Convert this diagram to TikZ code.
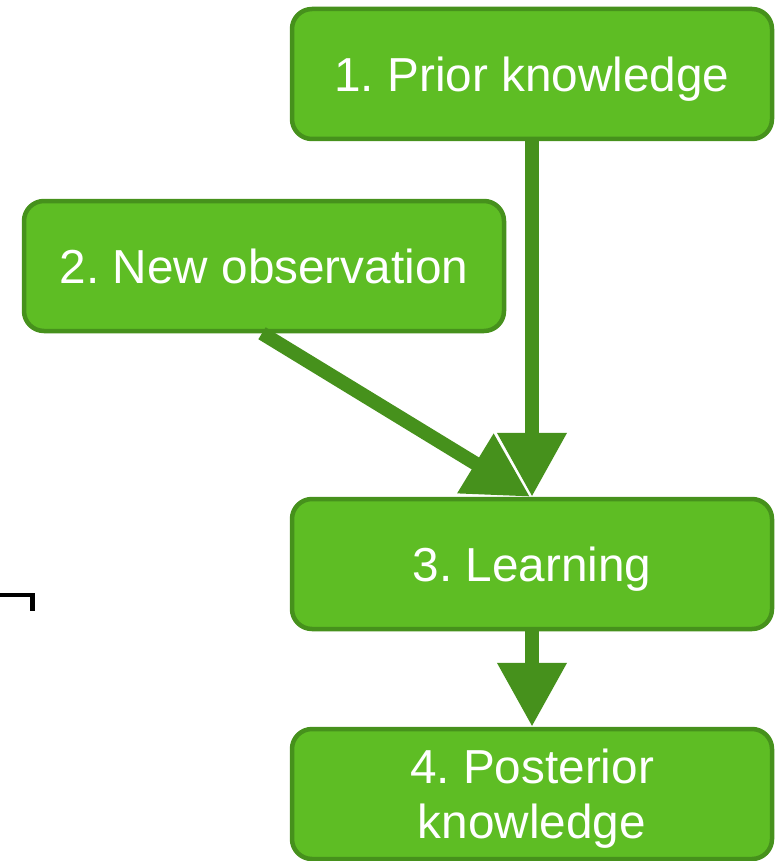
\documentclass[tikz,border=0pt]{standalone}
\usepackage{fontspec}
\setmainfont{Liberation Sans}
\usetikzlibrary{arrows.meta}

\definecolor{leaf}{RGB}{94,189,36}
\definecolor{leafdark}{RGB}{70,145,28}

\tikzset{
    box/.style={draw=leafdark, fill=leaf, line width=4.5pt, rounded corners=20pt,
        minimum width=480pt, minimum height=130pt, text=white, align=center,
        text depth=0pt, font=\fontsize{47.7}{55}\selectfont\frenchspacing},
    flow/.style={draw=leafdark, line width=14pt,
        -{Triangle[length=64pt, width=66pt]}},
}

\begin{document}
\begin{tikzpicture}[x=1pt, y=-1pt]
    \useasboundingbox (0,0) rectangle (774,861);
    \node[box] (prior) at (532,74) {1. Prior knowledge};
    \node[box] (obs) at (264,266) {2. New observation};
    \node[box] (learn) at (532,564) {3. Learning};
    \node[box] (post) at (532,794) {4. Posterior\\knowledge};
    % arrows into and out of the learning step
    \draw[flow] (prior.south) -- (learn.north);
    \draw[flow] ([xshift=-2pt]obs.south) -- ([xshift=-2pt]learn.north);
    \draw[flow] (learn.south) -- (post.north);
    % small corner mark on the left
    \draw[line width=4.5pt] (0,595) -- (32.5,595) -- (32.5,611);
\end{tikzpicture}
\end{document}
